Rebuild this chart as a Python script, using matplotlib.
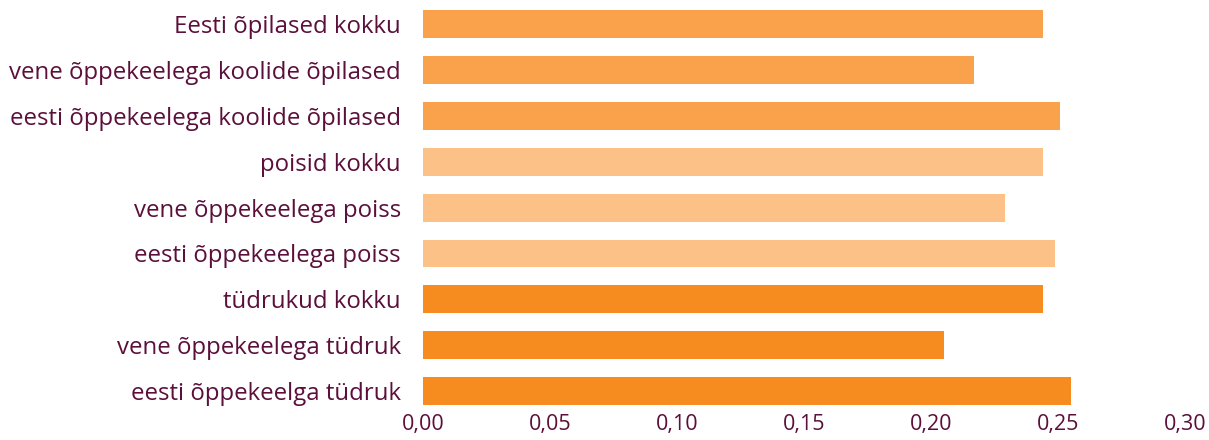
import matplotlib.pyplot as plt

# Data
categories = [
    'Eesti õpilased kokku',
    'vene õppekeelega koolide õpilased',
    'eesti õppekeelega koolide õpilased',
    'poisid kokku',
    'vene õppekeelega poiss',
    'eesti õppekeelega poiss',
    'tüdrukud kokku',
    'vene õppekeelega tüdruk',
    'eesti õppekeelga tüdruk',
]
values = [0.244, 0.217, 0.251, 0.244, 0.229, 0.249, 0.244, 0.205, 0.255]
groups = ['all', 'all', 'all', 'boys', 'boys', 'boys', 'girls', 'girls', 'girls']
xticks = [0.00, 0.05, 0.10, 0.15, 0.20, 0.25, 0.30]

colors = {'all': '#F9A24B', 'boys': '#FBC187', 'girls': '#F68B1F'}
text_color = '#5B0F3A'

plt.rcParams['font.family'] = ['Open Sans', 'DejaVu Sans']

fig = plt.figure(figsize=(12.09, 4.40), dpi=100)
ax = fig.add_axes([0.3499, 0.0595, 0.6302, 0.937])

ypos = list(range(len(categories)))
ax.barh(ypos, values, height=0.61, color=[colors[g] for g in groups])

ax.set_ylim(len(categories) - 0.5, -0.5)
ax.set_xlim(0, 0.30)
ax.set_yticks(ypos)
ax.set_yticklabels(categories, fontsize=17.3, color=text_color)
ax.set_xticks(xticks)
ax.set_xticklabels([f'{t:.2f}'.replace('.', ',') for t in xticks],
                   fontsize=15.5, color=text_color)
ax.tick_params(length=0, pad=0)
ax.tick_params(axis='y', pad=16)
for s in ax.spines.values():
    s.set_visible(False)

fig.savefig('out.png', dpi=100)
